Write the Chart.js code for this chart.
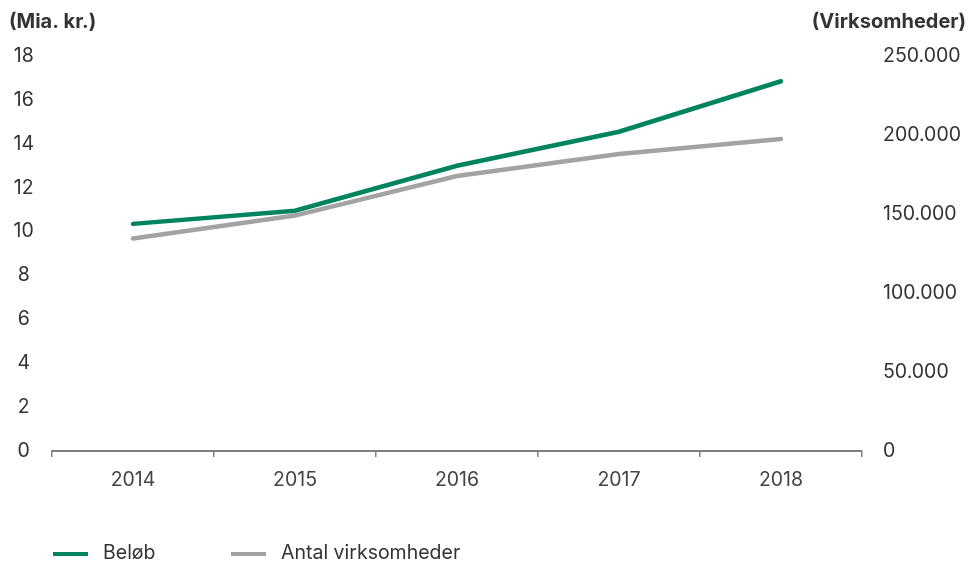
<!DOCTYPE html>
<html>
<head>
<meta charset="utf-8">
<script src="https://cdn.jsdelivr.net/npm/chart.js@4"></script>
<style>
  html, body { margin: 0; padding: 0; background: #fff; }
  #wrap { width: 972px; height: 562px; }
</style>
</head>
<body>
<div id="wrap"><canvas id="lineChart"></canvas></div>
<script>
// data
const aar = ["2014", "2015", "2016", "2017", "2018"];
const belob = [10.35, 10.95, 13.0, 14.55, 16.85];          // Mia. kr.
const virksomheder = [134500, 149000, 174000, 188000, 197500];
const venstreTitel = "(Mia. kr.)";
const hoejreTitel = "(Virksomheder)";

const groen = "#00845f";
const graa = "#a3a3a3";
const fontFam = "Inter, 'Noto Sans', sans-serif";

// axis titles on top + legend at the bottom
const ekstraTekst = {
    id: "ekstraTekst",
    afterDraw(chart) {
        const ctx = chart.ctx;
        ctx.save();
        ctx.fillStyle = "#333";
        ctx.font = "bold 20px " + fontFam;
        ctx.textBaseline = "middle";
        ctx.textAlign = "left";
        ctx.fillText(venstreTitel, 9, 22);
        ctx.textAlign = "right";
        ctx.fillText(hoejreTitel, 966, 22);

        // legend
        const starts = [53, 231];
        ctx.font = "19.5px " + fontFam;
        ctx.textAlign = "left";
        chart.data.datasets.forEach((ds, i) => {
            const x = starts[i];
            ctx.strokeStyle = ds.borderColor;
            ctx.lineWidth = 4;
            ctx.beginPath();
            ctx.moveTo(x, 554);
            ctx.lineTo(x + 35, 554);
            ctx.stroke();
            ctx.fillStyle = "#333";
            ctx.fillText(ds.label, x + 50, 553);
        });
        ctx.restore();
    }
};

var ctxL = document.getElementById("lineChart").getContext("2d");
var myLineChart = new Chart(ctxL, {
    type: "line",
    data: {
        labels: aar,
        datasets: [{
            label: "Beløb",
            data: belob,
            borderColor: groen,
            backgroundColor: groen,
            borderWidth: 4.5,
            pointRadius: 0,
            tension: 0,
            borderCapStyle: "round",
            yAxisID: "y"
        }, {
            label: "Antal virksomheder",
            data: virksomheder,
            borderColor: graa,
            backgroundColor: graa,
            borderWidth: 4.5,
            pointRadius: 0,
            tension: 0,
            borderCapStyle: "round",
            yAxisID: "y1"
        }]
    },
    options: {
        responsive: true,
        maintainAspectRatio: false,
        animation: false,
        layout: { padding: { top: 56, left: 0, right: 0, bottom: 0 } },
        plugins: {
            legend: { display: false },
            tooltip: { enabled: false }
        },
        scales: {
            x: {
                offset: true,
                grid: {
                    offset: true,
                    drawOnChartArea: false,
                    drawTicks: true,
                    tickLength: 6,
                    color: "#808080",
                    lineWidth: 1.5
                },
                border: { display: true, color: "#808080", width: 2 },
                ticks: {
                    color: "#444",
                    padding: 11,
                    font: { family: fontFam, size: 19.5 }
                },
                afterFit(scale) { scale.height = 111; }
            },
            y: {
                position: "left",
                min: 0,
                max: 18,
                ticks: {
                    stepSize: 2,
                    color: "#333",
                    padding: 18,
                    crossAlign: "center",
                    font: { family: fontFam, size: 19.5 }
                },
                grid: { display: false, drawTicks: false },
                border: { display: false },
                afterFit(scale) { scale.width = 52; }
            },
            y1: {
                position: "right",
                min: 0,
                max: 250000,
                ticks: {
                    stepSize: 50000,
                    color: "#333",
                    padding: 21,
                    font: { family: fontFam, size: 19.5 },
                    callback: v => String(v).replace(/\B(?=(\d{3})+(?!\d))/g, ".")
                },
                grid: { display: false, drawTicks: false },
                border: { display: false },
                afterFit(scale) { scale.width = 110; }
            }
        }
    },
    plugins: [ekstraTekst]
});
</script>
</body>
</html>
